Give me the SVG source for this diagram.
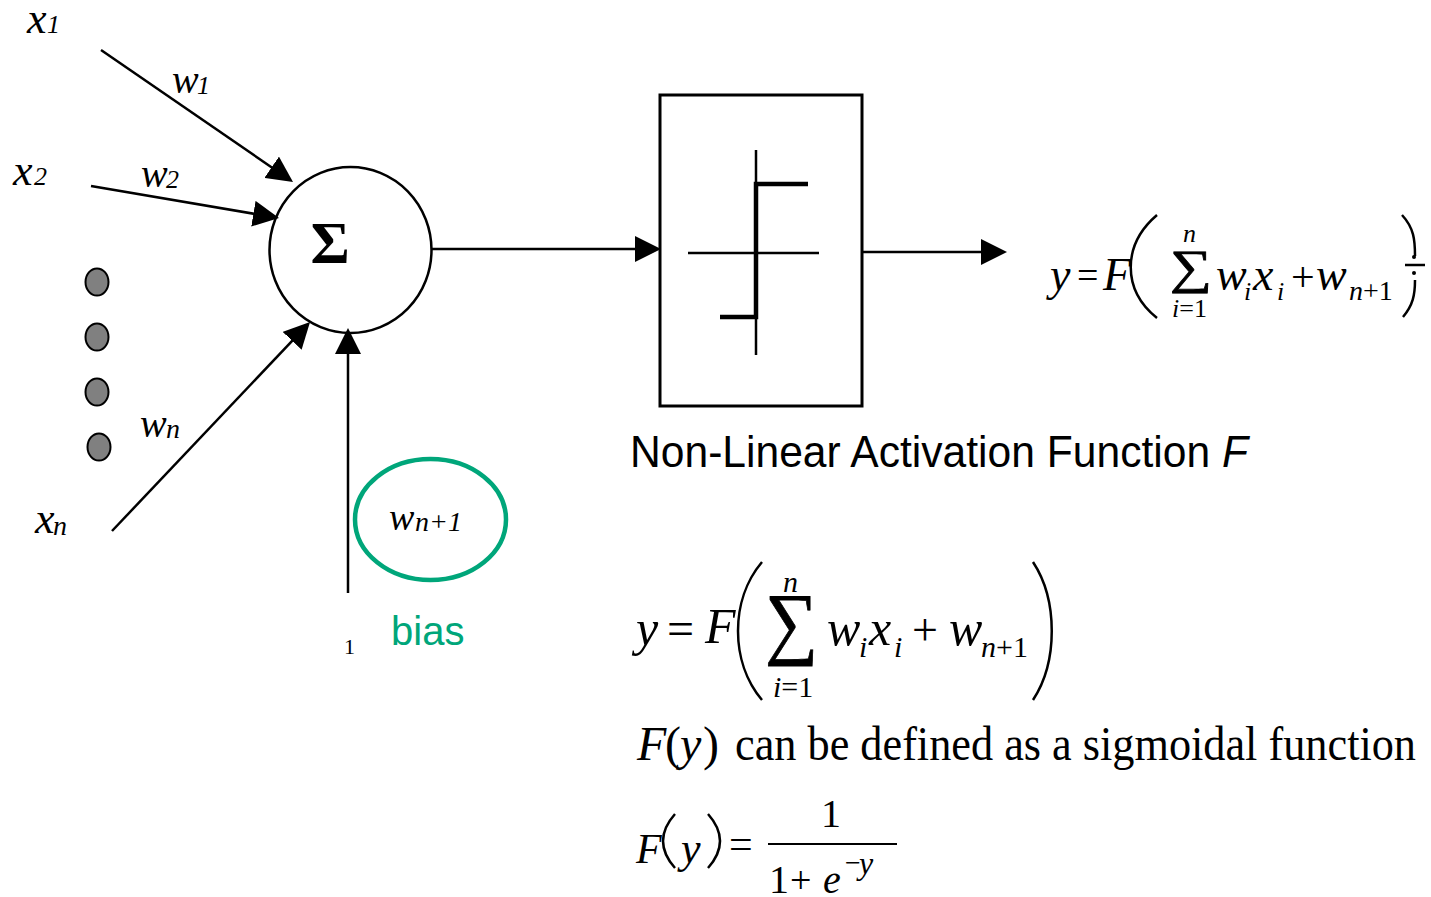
<svg xmlns="http://www.w3.org/2000/svg" width="1431" height="897" viewBox="0 0 1431 897">
<style>
.ln{stroke:#000;stroke-width:2.5;fill:none}
.ar{stroke:#000;stroke-width:2.5;fill:none;marker-end:url(#ah)}
.m{font-family:"Liberation Serif","DejaVu Serif",serif;fill:#000}
.i{font-style:italic}
.s{font-family:"Liberation Sans Narrow","Liberation Sans",Arial,sans-serif}
.dot{fill:#808080;stroke:#000;stroke-width:2}
.sig{stroke:#000;stroke-width:0.8}
</style>
<defs>
<marker id="ah" markerUnits="userSpaceOnUse" markerWidth="26" markerHeight="26" refX="21" refY="13" orient="auto">
<path d="M0,0 L26,13 L0,26 Z" fill="#000"/>
</marker>
</defs>
<rect width="1431" height="897" fill="#fff"/>

<g id="connectors">
<line class="ar" x1="101" y1="50" x2="288.9" y2="179.2"/>
<line class="ar" x1="91" y1="186" x2="274.1" y2="217.2"/>
<line class="ar" x1="112" y1="531" x2="306.6" y2="325.6"/>
<line class="ar" x1="348" y1="593" x2="348" y2="333"/>
<line class="ar" x1="432" y1="249" x2="656" y2="249"/>
<line class="ar" x1="863" y1="252" x2="1002" y2="252"/>
</g>

<g id="inputs">
<text class="m i" x="27" y="33" font-size="44">x</text><text class="m i" x="47" y="33" font-size="26">1</text>
<text class="m i" x="13" y="185" font-size="44">x</text><text class="m i" x="34" y="185" font-size="26">2</text>
<text class="m i" x="35" y="533" font-size="44">x</text><text class="m i" x="53" y="535" font-size="28">n</text>
<text class="m i" x="172" y="93" font-size="40">w</text><text class="m i" x="197" y="94" font-size="26">1</text>
<text class="m i" x="141" y="187" font-size="40">w</text><text class="m i" x="166" y="188" font-size="26">2</text>
<text class="m i" x="140" y="437" font-size="40">w</text><text class="m i" x="166" y="438" font-size="28">n</text>
</g>

<g id="dots">
<ellipse class="dot" cx="97" cy="282" rx="11.5" ry="13.5"/>
<ellipse class="dot" cx="97" cy="337" rx="11.5" ry="13.5"/>
<ellipse class="dot" cx="97" cy="392" rx="11.5" ry="13.5"/>
<ellipse class="dot" cx="99" cy="447" rx="11.5" ry="13.5"/>
</g>

<g id="sum">
<ellipse cx="350.5" cy="250" rx="81" ry="83" fill="none" stroke="#000" stroke-width="2.5"/>
<text class="m" x="330" y="263" font-size="60" font-weight="bold" text-anchor="middle">Σ</text>
</g>

<g id="bias">
<ellipse cx="430.5" cy="519.5" rx="75.5" ry="60.5" fill="none" stroke="#00a67a" stroke-width="4.5"/>
<text class="m i" x="389" y="530" font-size="38">w</text><text class="m i" x="415" y="531" font-size="28">n+1</text>
<text class="m" x="344" y="654" font-size="22">1</text>
<text class="s" x="391" y="645" font-size="40" fill="#00a67a">bias</text>
</g>

<g id="activation">
<rect x="660" y="95" width="202" height="311" fill="none" stroke="#000" stroke-width="3"/>
<line class="ln" x1="756" y1="150" x2="756" y2="355"/>
<line class="ln" x1="688" y1="253" x2="819" y2="253"/>
<polyline points="720,317 756,317 756,184 808,184" fill="none" stroke="#000" stroke-width="4.5"/>
<text class="s" x="630" y="467" font-size="45" textLength="618" lengthAdjust="spacingAndGlyphs">Non-Linear Activation Function <tspan font-style="italic">F</tspan></text>
</g>

<g id="formula1">
<text class="m i" x="1050" y="290" font-size="46">y</text>
<text class="m" x="1077" y="288" font-size="38">=</text>
<text class="m i" x="1103" y="290" font-size="46">F</text>
<path d="M1157,215 C1122,245 1122,290 1157,318" class="ln" stroke-width="3"/>
<text class="m i" x="1183" y="242" font-size="26">n</text>
<text class="m sig" x="1170" y="283" font-size="48" textLength="42" lengthAdjust="spacingAndGlyphs">∑</text>
<text class="m" x="1172" y="317" font-size="26"><tspan font-style="italic">i</tspan>=1</text>
<text class="m i" x="1216" y="290" font-size="46">w</text><text class="m i" x="1244" y="300" font-size="26">i</text>
<text class="m i" x="1253" y="290" font-size="46">x</text><text class="m i" x="1277" y="300" font-size="26">i</text>
<text class="m" x="1291" y="291" font-size="42">+</text>
<text class="m i" x="1316" y="290" font-size="46">w</text><text class="m" x="1349" y="300" font-size="28"><tspan font-style="italic">n</tspan>+1</text>
<path d="M1402,215 C1414,228 1415,240 1415,256 M1415,280 C1415,295 1413,305 1403,317" class="ln" stroke-width="2.5"/>
<line class="ln" x1="1405" y1="265" x2="1425" y2="265" stroke-width="2"/>
<circle cx="1414" cy="257" r="2" fill="#000"/>
<circle cx="1414" cy="273" r="2" fill="#000"/>
</g>

<g id="formula2">
<text class="m i" x="636" y="645" font-size="50">y</text>
<text class="m" x="667" y="645" font-size="48">=</text>
<text class="m i" x="705" y="643" font-size="50">F</text>
<path d="M762,562 C730,600 730,662 762,700" class="ln" stroke-width="3"/>
<text class="m i" x="783" y="592" font-size="30">n</text>
<text class="m sig" x="765" y="649" font-size="80" textLength="53" lengthAdjust="spacingAndGlyphs">∑</text>
<text class="m" x="773" y="697" font-size="30"><tspan font-style="italic">i</tspan>=1</text>
<text class="m i" x="827" y="645" font-size="50">w</text><text class="m i" x="859" y="657" font-size="30">i</text>
<text class="m i" x="869" y="645" font-size="50">x</text><text class="m i" x="894" y="657" font-size="30">i</text>
<text class="m" x="912" y="645" font-size="46">+</text>
<text class="m i" x="949" y="645" font-size="50">w</text><text class="m" x="981" y="657" font-size="30"><tspan font-style="italic">n</tspan>+1</text>
<path d="M1033,562 C1058,600 1058,662 1033,700" class="ln" stroke-width="3"/>
</g>

<g id="formula3">
<text class="m i" x="637" y="760" font-size="48">F</text>
<text class="m" x="665" y="760" font-size="48">(</text>
<text class="m i" x="680" y="760" font-size="48">y</text>
<text class="m" x="703" y="760" font-size="48">)</text>
<text class="m" x="735" y="760" font-size="48" textLength="681" lengthAdjust="spacingAndGlyphs">can be defined as a sigmoidal function</text>
</g>

<g id="formula4">
<text class="m i" x="636" y="863" font-size="42">F</text>
<path d="M675,814 C659,832 659,850 675,868" class="ln" stroke-width="2.5"/>
<text class="m i" x="681" y="863" font-size="44">y</text>
<path d="M708,814 C724,832 724,850 708,868" class="ln" stroke-width="2.5"/>
<text class="m" x="729" y="858" font-size="42">=</text>
<line x1="768" y1="844" x2="897" y2="844" stroke="#000" stroke-width="2"/>
<text class="m" x="821" y="827" font-size="40">1</text>
<text class="m" x="769" y="893" font-size="40">1</text>
<text class="m" x="790" y="893" font-size="38">+</text>
<text class="m i" x="823" y="893" font-size="40">e</text>
<text class="m" x="845" y="872" font-size="28">−</text>
<text class="m i" x="859" y="874" font-size="32">y</text>
</g>
</svg>
